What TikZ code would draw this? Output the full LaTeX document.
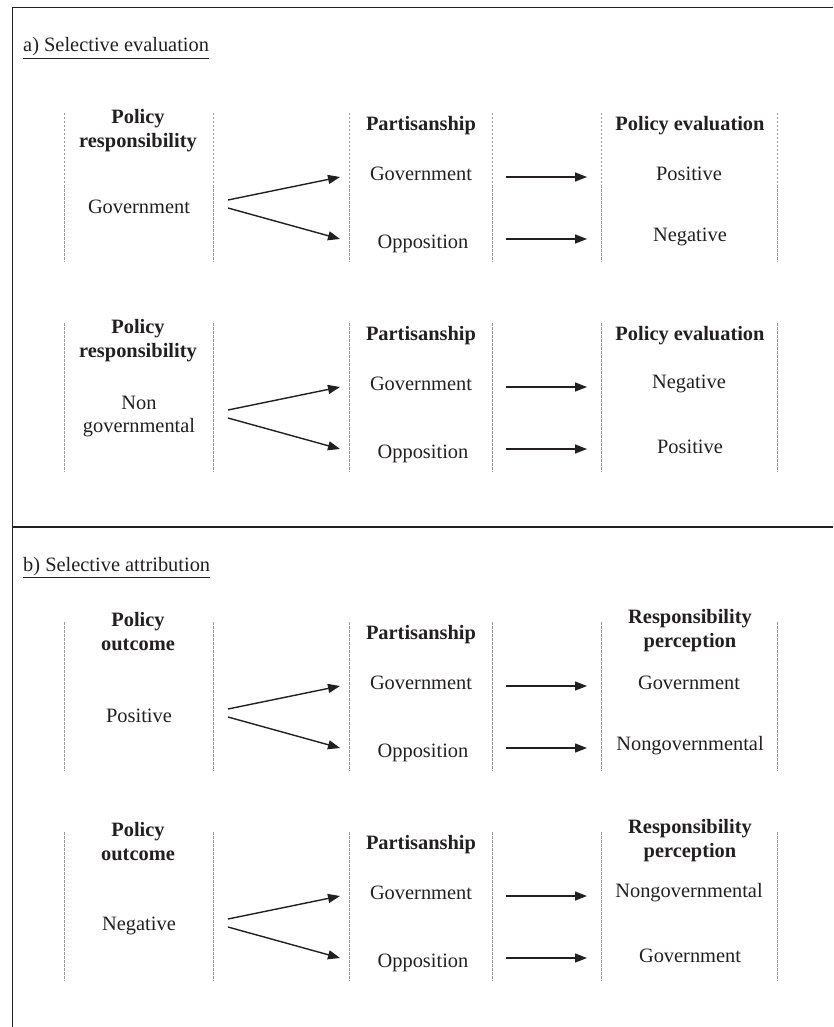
\documentclass[tikz,border=0pt]{standalone}
\usepackage{fontspec}
\setmainfont{Liberation Serif}
\usetikzlibrary{arrows.meta}
\definecolor{ink}{HTML}{231F20}
\definecolor{dashgray}{HTML}{9A9A9A}
\tikzset{
  ml/.style={font=\fontsize{20.4}{23}\selectfont, text=ink, inner sep=0pt, align=center},
  hd/.style={font=\fontsize{20.4}{24}\selectfont\bfseries, text=ink, inner sep=0pt, align=center},
  dline/.style={draw=dashgray, line width=0.9pt, dash pattern=on 2.5pt off 1.5pt},
  arr/.style={draw=ink, line width=1.4pt, -{Triangle[length=12pt,width=9pt]}},
  frameline/.style={draw=ink, line width=1.6pt},
  ttl/.style={font=\fontsize{20.4}{24}\selectfont, text=ink, inner sep=0pt, anchor=base west},
}
\newcommand\mygroup[9]{%
\begin{scope}[shift={(0,#2)}]
  \foreach \xx in {64,213,349,492,601,777}{\draw[dline] (\xx,113) -- (\xx,262);}
  \node[hd] (#1ha) at (138,#9) {#3};
  \node[ml] (#1va) at (139,207) {#4};
  \node[hd] (#1hb) at (421,126) {Partisanship};
  \node[ml] (#1gov) at (421,174) {Government};
  \node[ml] (#1opp) at (423,244) {Opposition};
  \node[hd] (#1hc) at (690,#8) {#5};
  \node[ml] (#1top) at (689,174) {#6};
  \node[ml] (#1bot) at (690,237) {#7};
  \coordinate (#1s1) at (228,200);
  \coordinate (#1s2) at (228,208);
  \coordinate (#1e1) at (340,177);
  \coordinate (#1e2) at (340,239);
  \coordinate (#1m1) at (506,177);
  \coordinate (#1m2) at (506,239);
  \coordinate (#1n1) at (587,177);
  \coordinate (#1n2) at (587,239);
  \draw[arr] (#1s1) -- (#1e1);
  \draw[arr] (#1s2) -- (#1e2);
  \draw[arr] (#1m1) -- (#1n1);
  \draw[arr] (#1m2) -- (#1n2);
\end{scope}}
\begin{document}
\begin{tikzpicture}[x=1pt,y=-1pt]
  \useasboundingbox (0,0) rectangle (833,1027);
  \coordinate (fr) at (833,7.5);
  \coordinate (fl) at (12.5,7.5);
  \coordinate (fb) at (12.5,1027);
  \coordinate (ml) at (12.5,527);
  \coordinate (mr) at (833,527);
  \draw[frameline] (fr) -- (fl) -- (fb);
  \draw[frameline] (ml) -- (mr);
  \node[ttl] (ta) at (23,52) {\underline{a) Selective evaluation}};
  \node[ttl] (tb) at (23,571) {\underline{b) Selective attribution}};
  \mygroup{a}{0}{Policy\\responsibility}{Government}{Policy evaluation}{Positive}{Negative}{126}{131}
  \mygroup{b}{210}{Policy\\responsibility}{Non\\governmental}{Policy evaluation}{Negative}{Positive}{126}{131}
  \mygroup{c}{509}{Policy\\outcome}{Positive}{Responsibility\\perception}{Government}{Nongovernmental}{122}{123}
  \mygroup{d}{719}{Policy\\outcome}{Negative}{Responsibility\\perception}{Nongovernmental}{Government}{122}{123}
\end{tikzpicture}
\end{document}
